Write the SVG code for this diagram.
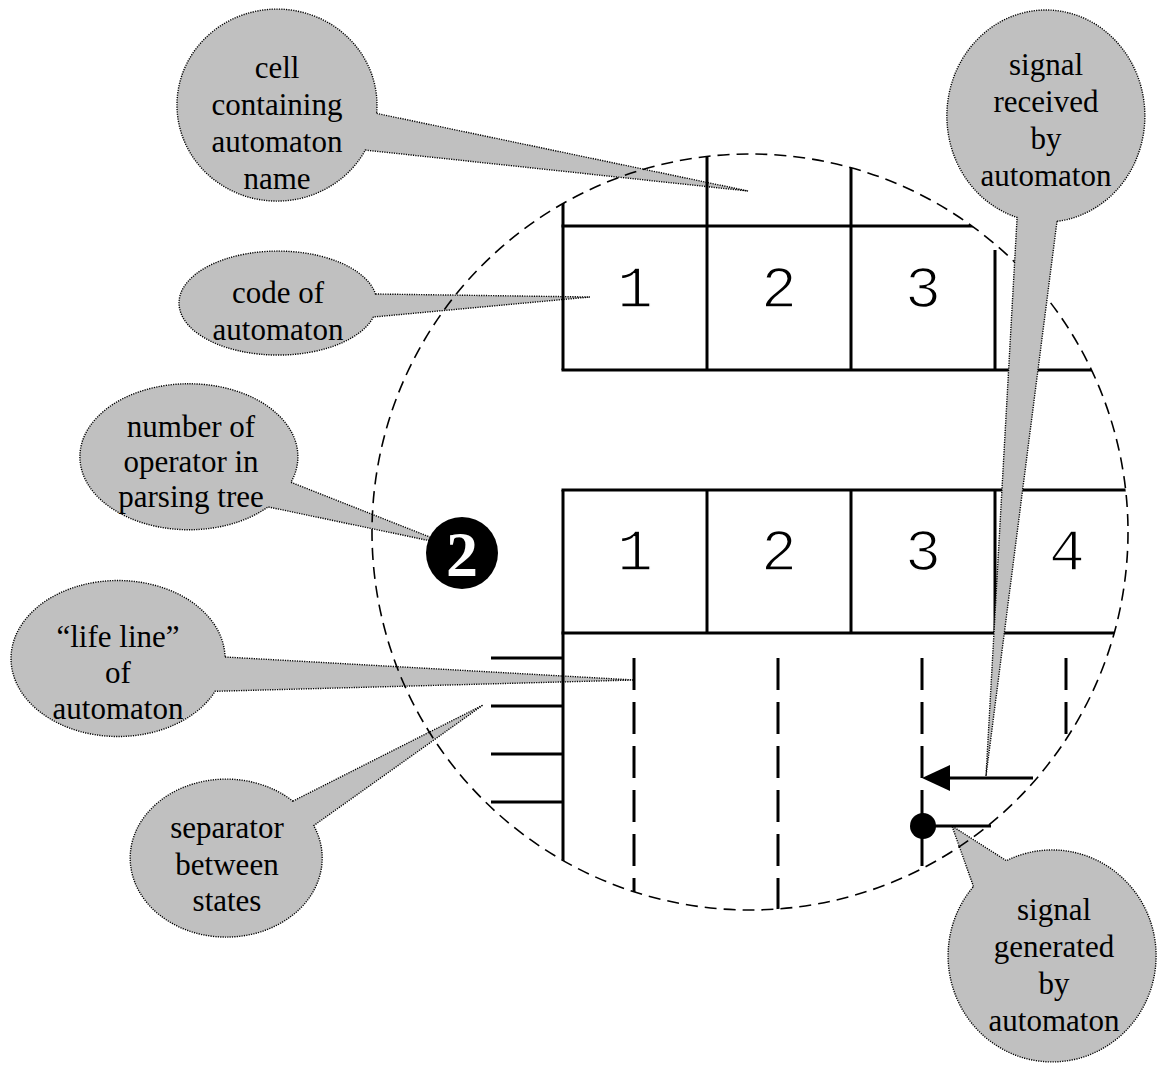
<svg xmlns="http://www.w3.org/2000/svg" width="1158" height="1065" viewBox="0 0 1158 1065">
<style>
.co{fill:#c0c0c0;stroke:#000;stroke-width:1.4;stroke-dasharray:1.2 1.2}
.ct{font-family:"Liberation Serif","Times New Roman",serif;font-size:31px;fill:#000;text-anchor:middle}
.ln{stroke:#000;stroke-width:3;fill:none}
.ll{stroke:#000;stroke-width:3;fill:none;stroke-dasharray:32 12}
.num{font-family:"Liberation Mono","Courier New",monospace;font-size:60px;fill:#000;stroke:#fff;stroke-width:1.6;text-anchor:middle}
</style>
<defs>
<clipPath id="cc"><circle cx="750" cy="532" r="378"/></clipPath>
</defs>
<rect width="1158" height="1065" fill="#fff"/>
<g id="callout-cell">
<path class="co" d="M376.6,113.4 L748,191 L365.3,150.1 A100,96 0 1 1 376.6,113.4 Z"/>
<text class="ct" x="277" y="78">cell</text>
<text class="ct" x="277" y="115">containing</text>
<text class="ct" x="277" y="152">automaton</text>
<text class="ct" x="277" y="189">name</text>
</g>
<g id="callout-code">
<path class="co" d="M375.5,294 L590,297 L373.4,317 A99,52 0 1 1 375.5,294 Z"/>
<text class="ct" x="278" y="303">code of</text>
<text class="ct" x="278" y="340">automaton</text>
</g>
<g id="callout-number">
<path class="co" d="M291,482.3 L450,545 L268.1,506.9 A109,73 0 1 1 291,482.3 Z"/>
<text class="ct" x="191" y="437">number of</text>
<text class="ct" x="191" y="472">operator in</text>
<text class="ct" x="191" y="507">parsing tree</text>
</g>
<g id="callout-lifeline">
<path class="co" d="M225,657 L634,680 L215.1,691.3 A107,78 0 1 1 225,657 Z"/>
<text class="ct" x="118" y="647">“life line”</text>
<text class="ct" x="118" y="683">of</text>
<text class="ct" x="118" y="719">automaton</text>
</g>
<g id="callout-separator">
<path class="co" d="M292.8,801.2 L483,705 L313.7,825.6 A96,79 0 1 1 292.8,801.2 Z"/>
<text class="ct" x="227" y="838">separator</text>
<text class="ct" x="227" y="875">between</text>
<text class="ct" x="227" y="911">states</text>
</g>
<g id="callout-generated">
<path class="co" d="M973.5,886.5 L952,826 L1006.4,860.7 A104,106 0 1 1 973.5,886.5 Z"/>
<text class="ct" x="1054" y="920">signal</text>
<text class="ct" x="1054" y="957">generated</text>
<text class="ct" x="1054" y="994">by</text>
<text class="ct" x="1054" y="1031">automaton</text>
</g>
<g id="boundary">
<circle cx="750" cy="532" r="378" fill="none" stroke="#000" stroke-width="1.6" stroke-dasharray="12 7"/>
</g>
<g id="table" clip-path="url(#cc)">
<line class="ln" x1="563" y1="150" x2="563" y2="370"/>
<line class="ln" x1="707" y1="150" x2="707" y2="370"/>
<line class="ln" x1="851" y1="150" x2="851" y2="370"/>
<line class="ln" x1="995" y1="250" x2="995" y2="370"/>
<line class="ln" x1="561.5" y1="226" x2="1000" y2="226"/>
<line class="ln" x1="561.5" y1="370" x2="1130" y2="370"/>
<line class="ln" x1="561.5" y1="490" x2="1140" y2="490"/>
<line class="ln" x1="561.5" y1="633" x2="1140" y2="633"/>
<line class="ln" x1="563" y1="490" x2="563" y2="900"/>
<line class="ln" x1="707" y1="490" x2="707" y2="633"/>
<line class="ln" x1="851" y1="490" x2="851" y2="633"/>
<line class="ln" x1="995" y1="490" x2="995" y2="633"/>
<line class="ln" x1="491" y1="658" x2="563" y2="658"/>
<line class="ln" x1="491" y1="706" x2="563" y2="706"/>
<line class="ln" x1="491" y1="754" x2="563" y2="754"/>
<line class="ln" x1="491" y1="802" x2="563" y2="802"/>
<line class="ll" x1="634" y1="658" x2="634" y2="930"/>
<line class="ll" x1="778" y1="658" x2="778" y2="930"/>
<line class="ll" x1="922" y1="658" x2="922" y2="930"/>
<line class="ll" x1="1066" y1="658" x2="1066" y2="930"/>
<text class="num" x="635" y="307">1</text>
<text class="num" x="779" y="307">2</text>
<text class="num" x="923" y="307">3</text>
<text class="num" x="635" y="570">1</text>
<text class="num" x="779" y="570">2</text>
<text class="num" x="923" y="570">3</text>
<text class="num" x="1067" y="570">4</text>
</g>
<g id="operator-number">
<circle cx="462" cy="553" r="36" fill="#000"/>
<text x="462" y="576" font-family="'Liberation Serif','Times New Roman',serif" font-size="64" font-weight="bold" fill="#fff" text-anchor="middle">2</text>
</g>
<g id="connectors">
<line class="ln" x1="948" y1="778" x2="1033" y2="778"/>
<polygon points="922,778 950,765 950,791" fill="#000"/>
<circle cx="923" cy="826" r="13" fill="#000"/>
<line class="ln" x1="923" y1="826" x2="991" y2="826"/>
</g>
<g id="callout-received">
<path class="co" d="M1057,221.3 L986,776 L1017.1,217.4 A99,106 0 1 1 1057,221.3 Z"/>
<text class="ct" x="1046" y="75">signal</text>
<text class="ct" x="1046" y="112">received</text>
<text class="ct" x="1046" y="149">by</text>
<text class="ct" x="1046" y="186">automaton</text>
</g>
</svg>
